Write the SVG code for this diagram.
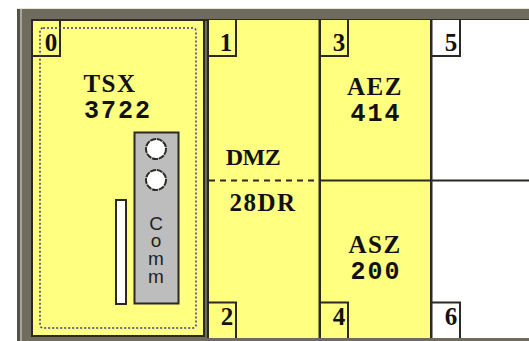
<svg xmlns="http://www.w3.org/2000/svg" width="529" height="341" viewBox="0 0 529 341">
<style>
.l,.n{font-family:"Liberation Serif",serif;font-weight:700;fill:#111;text-anchor:middle}
.l{font-size:25px;letter-spacing:1.500px}
.m{font-size:24px;letter-spacing:-0.500px}
.d{font-family:"Liberation Mono",monospace;font-weight:700;fill:#111;text-anchor:middle;font-size:25px;letter-spacing:2px}
.n{font-size:25px}
.t{fill:none;stroke:#2a2a22;stroke-width:2}
.y{fill:#ffff80}
</style>
<rect width="529" height="341" fill="#fff"/>
<rect x="17" y="8" width="512" height="333" fill="#e8e6da"/>
<rect x="17" y="9" width="512" height="332" fill="#6f6b5e"/>
<rect x="17" y="9" width="3" height="332" fill="#55524a"/>
<rect x="20" y="9" width="2" height="332" fill="#a8a69c"/>
<g id="connectors">
<rect x="31" y="19" width="498" height="2" fill="#2a2a22"/>
</g>
<g id="node-0">
<rect class="y" x="32" y="20" width="172" height="316"/>
<rect class="t" x="32" y="20" width="172" height="316"/>
<path class="t" d="M60 20V56H32"/>
<text class="n" x="51" y="51">0</text>
<rect x="40" y="28" width="156" height="300" rx="3" fill="none" stroke="#3a3a90" stroke-width="1.500" stroke-dasharray="2 2"/>
<text class="l" x="110" y="92">TSX</text>
<text class="d" x="118" y="118">3722</text>
<g id="comm">
<rect x="134.500" y="132.500" width="44" height="171" fill="#bdbdbd" stroke="#2a2a22" stroke-width="2"/>
<circle cx="156" cy="149" r="10" fill="#fff" stroke="#2a2a22" stroke-width="2" stroke-dasharray="6 0.800"/>
<circle cx="156" cy="180" r="10" fill="#fff" stroke="#2a2a22" stroke-width="2" stroke-dasharray="6 0.800"/>
<text font-family="Liberation Sans, sans-serif" font-size="19" fill="#222" text-anchor="middle" x="156 156 156 156" y="230 247 265 283">Comm</text>
</g>
<rect x="116" y="200" width="10" height="104" fill="#fff" stroke="#2a2a22" stroke-width="2"/>
</g>
<g id="node-1-2">
<rect class="y" x="208" y="20" width="111" height="318"/>
<rect x="207" y="20" width="2" height="318" fill="#2a2a22"/>
<path d="M209 180.500H320" fill="none" stroke="#2a2a22" stroke-width="2" stroke-dasharray="6 5"/>
<path class="t" d="M236 20V56H208"/>
<text class="n" x="226" y="51">1</text>
<path class="t" d="M208 302.500H236V338"/>
<text class="n" x="227" y="325">2</text>
<text class="l m" x="253" y="165">DMZ</text>
<text class="l" x="263" y="211">28DR</text>
</g>
<g id="node-3-4">
<rect class="y" x="320" y="20" width="111" height="318"/>
<rect x="318.500" y="20" width="2.500" height="318" fill="#2a2a22"/>
<path class="t" d="M348 20V56H320"/>
<text class="n" x="339" y="51">3</text>
<text class="l" x="375" y="95">AEZ</text>
<text class="d" x="376" y="121">414</text>
<path class="t" d="M320 180.500H431"/>
<text class="l" x="375" y="253">ASZ</text>
<text class="d" x="376" y="279">200</text>
<path class="t" d="M348 338V302.500H320"/>
<text class="n" x="339" y="325">4</text>
</g>
<g id="node-5-6">
<rect x="431" y="20" width="98" height="318" fill="#fff"/>
<rect x="430" y="20" width="2.500" height="318" fill="#2a2a22"/>
<path class="t" d="M460 20V56H432"/>
<text class="n" x="451" y="51">5</text>
<path class="t" d="M432 180.500H529"/>
<path class="t" d="M460 338V302.500H432"/>
<text class="n" x="451" y="325">6</text>
</g>
<rect x="32" y="338" width="497" height="3" fill="#6f6b5e"/>
</svg>
